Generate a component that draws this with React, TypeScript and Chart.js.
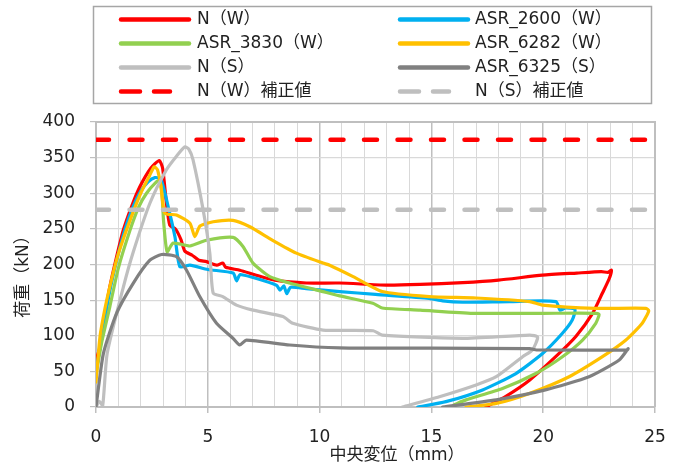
import React, { useEffect, useRef } from "react";
import { Chart, registerables } from "chart.js";

Chart.register(...registerables);

// ---- data (x: 中央変位 mm, y: 荷重 kN) ----
const N_W: [number, number][] = [
  [0, 65], [0.18, 85], [0.4, 130], [0.62, 169], [0.9, 208], [1.22, 248], [1.6, 282], [1.96, 309], [2.45, 335], [2.83, 346], [2.98, 335],
  [3.15, 286], [3.3, 255], [3.55, 250], [3.8, 235], [3.97, 219], [4.3, 213], [4.6, 206], [4.94, 204],
  [5.4, 199], [5.67, 202], [5.8, 196], [6.43, 192], [7.17, 185], [8.0, 178], [9.4, 174], [10.9, 174],
  [12.98, 171], [14.5, 172], [16.4, 174.5], [18.0, 178], [19.96, 185], [21.5, 188], [22.6, 190],
  [22.9, 189], [23.05, 192], [22.95, 180], [22.65, 160], [22.2, 131], [21.46, 99], [20.57, 71],
  [19.4, 38], [18.33, 15], [17.44, 0],
];
const ASR_2600_W: [number, number][] = [
  [0, 50], [0.3, 105], [0.6, 160], [0.92, 205], [1.3, 250], [1.67, 282], [2.0, 303], [2.33, 316], [2.63, 322], [2.9, 320], [3.23, 281],
  [3.53, 239], [3.75, 197], [4.2, 199], [5.0, 193], [6.13, 188], [6.29, 177], [6.45, 186], [8.07, 171],
  [8.23, 164], [8.4, 170], [8.53, 159], [8.7, 168], [9.4, 166], [10.9, 162], [12.5, 158], [14.9, 152.5],
  [15.5, 149], [16.4, 147], [18.5, 148], [20.57, 148], [20.75, 136], [21.0, 139], [21.42, 137],
  [21.3, 122], [20.86, 103.5], [19.97, 75], [18.78, 47], [17.29, 24], [15.65, 7.5], [14.39, 0],
];
const ASR_3830_W: [number, number][] = [
  [0, 45], [0.25, 90], [0.62, 141], [1.0, 195], [1.52, 248], [1.9, 280], [2.26, 300], [2.7, 316], [2.85, 318], [2.95, 300],
  [3.02, 262], [3.18, 218], [3.45, 230], [4.2, 226], [4.94, 234], [6.13, 238], [6.58, 225], [7.02, 202],
  [7.77, 183], [8.66, 174], [10.15, 162], [10.9, 156], [12.38, 145.5], [12.8, 139], [14.5, 136],
  [16.85, 131.5], [20.0, 131.5], [22.35, 131.5], [22.5, 130], [22.35, 117.5], [21.76, 94], [20.86, 70.6],
  [19.67, 47], [18.18, 26], [16.55, 10], [16.0, 3],
];
const ASR_6282_W: [number, number][] = [
  [0, 35], [0.18, 99], [0.4, 138], [0.62, 169], [1.0, 215], [1.52, 262], [2.0, 300], [2.4, 325], [2.6, 337],
  [2.75, 333], [2.9, 310], [3.08, 272], [3.6, 269.5], [4.2, 258], [4.42, 239], [4.65, 254], [5.24, 260],
  [6.13, 262], [6.88, 253], [7.9, 234], [8.96, 216], [10.15, 202], [10.45, 199], [11.5, 183], [12.8, 162],
  [14.9, 155], [17.0, 153], [19.4, 148], [19.96, 143], [22.35, 138.5], [24.6, 138.5], [24.72, 135],
  [24.43, 117.5], [23.7, 94], [22.65, 70.6], [21.16, 42.5], [19.38, 19], [17.9, 5], [16.55, 0],
];
const N_S: [number, number][] = [
  [0, 0], [0.15, 8], [0.3, 2], [0.5, 75], [1.22, 168], [1.67, 218], [2.41, 286], [3.15, 333], [3.6, 352],
  [3.97, 365], [4.15, 362], [4.34, 347], [4.79, 277], [5.09, 216], [5.24, 160], [5.67, 155], [6.28, 143],
  [7.02, 136], [8.36, 127], [8.8, 117.5], [10.15, 108], [12.4, 107], [12.8, 101], [16.4, 96.4],
  [19.4, 101], [19.75, 98], [19.52, 80], [19.08, 70.6], [17.9, 42.5], [17.0, 31], [15.36, 14.5], [13.7, 0],
];
const ASR_6325_S: [number, number][] = [
  [0, 0], [0.33, 75], [0.92, 131.5], [1.67, 174], [2.41, 206], [2.93, 214], [3.6, 211], [4.05, 192],
  [4.64, 155], [5.39, 117.5], [6.13, 96.4], [6.43, 87], [6.73, 94], [8.66, 87], [10.9, 83], [15, 82.5],
  [19.4, 82], [19.7, 80], [23.76, 80], [23.8, 82], [23.4, 66], [22.05, 42.5], [20.1, 24], [17.9, 10],
  [15.5, 0],
];
const N_W_CORRECTION = 375;
const N_S_CORRECTION = 277;
const X_RANGE = [0, 25];
const Y_RANGE = [0, 400];

const SERIES_NAMES = [
  "N（W）", "ASR_2600（W）", "ASR_3830（W）", "ASR_6282（W）",
  "N（S）", "ASR_6325（S）", "N（W）補正値", "N（S）補正値",
];
const SERIES_COLORS = ["#FF0000", "#00B0F0", "#92D050", "#FFC000", "#BFBFBF", "#808080", "#FF0000", "#BFBFBF"];
const X_TITLE = "中央変位（mm）";
const Y_TITLE = "荷重（kN）";

const FONT = "'DejaVu Sans', 'Noto Sans CJK JP', sans-serif";
const TEXT_COLOR = "#222222";

const toPoints = (arr: [number, number][]) => arr.map(([x, y]) => ({ x, y }));

const overlayPlugin = {
  id: "overlay",
  beforeDatasetsDraw(chart: any) {
    const { ctx, chartArea: a } = chart;
    ctx.save();
    ctx.strokeStyle = "#BFBFBF";
    ctx.lineWidth = 2;
    ctx.beginPath();
    ctx.moveTo(a.left, a.top);
    ctx.lineTo(a.right, a.top);
    ctx.lineTo(a.right, a.bottom);
    ctx.stroke();
    ctx.restore();
  },
  afterDraw(chart: any) {
    const ctx = chart.ctx;
    ctx.save();
    // legend box
    ctx.strokeStyle = "#A6A6A6";
    ctx.lineWidth = 1.5;
    ctx.strokeRect(93.5, 6.5, 558, 97);
    ctx.font = `17px ${FONT}`;
    ctx.textBaseline = "middle";
    ctx.textAlign = "left";
    SERIES_NAMES.forEach((name, i) => {
      const col = i % 2;
      const row = Math.floor(i / 2);
      const y = 19.5 + row * 24;
      const lx = col === 0 ? 121 : 400;
      const tx = col === 0 ? 197 : 475;
      ctx.strokeStyle = SERIES_COLORS[i];
      ctx.lineWidth = 4.5;
      ctx.lineCap = "round";
      ctx.beginPath();
      if (i >= 6) {
        ctx.moveTo(lx, y);
        ctx.lineTo(lx + 19, y);
        ctx.moveTo(lx + 33, y);
        ctx.lineTo(lx + 49, y);
      } else {
        ctx.moveTo(lx, y);
        ctx.lineTo(lx + 68, y);
      }
      ctx.stroke();
      ctx.fillStyle = TEXT_COLOR;
      ctx.fillText(name, tx, y + 0.5);
    });
    // axis titles
    ctx.textAlign = "center";
    ctx.fillText(X_TITLE, 397, 456);
    ctx.translate(23.5, 272.5);
    ctx.rotate(-Math.PI / 2);
    ctx.fillText(Y_TITLE, 0, 0);
    ctx.restore();
  },
};

export default function App() {
  const ref = useRef<HTMLCanvasElement | null>(null);
  useEffect(() => {
    if (!ref.current) return;
    const curves = [N_W, ASR_2600_W, ASR_3830_W, ASR_6282_W, N_S, ASR_6325_S];
    const datasets: any[] = curves.map((c, i) => ({
      label: SERIES_NAMES[i],
      data: toPoints(c),
      borderColor: SERIES_COLORS[i],
      backgroundColor: SERIES_COLORS[i],
      borderWidth: 3.2,
      pointRadius: 0,
      showLine: true,
      tension: 0.2,
      borderJoinStyle: "round",
      borderCapStyle: "round",
      order: 10 - i,
    }));
    [N_W_CORRECTION, N_S_CORRECTION].forEach((v, k) => {
      const i = 6 + k;
      datasets.push({
        label: SERIES_NAMES[i],
        data: [{ x: X_RANGE[0], y: v }, { x: X_RANGE[1], y: v }],
        borderColor: SERIES_COLORS[i],
        backgroundColor: SERIES_COLORS[i],
        borderWidth: 4.5,
        borderDash: [13, 20.5],
        borderCapStyle: "round",
        pointRadius: 0,
        showLine: true,
        order: 10 - i,
      });
    });
    const chart = new Chart(ref.current, {
      type: "scatter",
      data: { datasets },
      options: {
        animation: false,
        responsive: false,
        devicePixelRatio: 1,
        layout: { padding: { top: 122, right: 29, left: 0, bottom: 0 } },
        plugins: { legend: { display: false }, tooltip: { enabled: false } },
        scales: {
          x: {
            type: "linear",
            min: X_RANGE[0],
            max: X_RANGE[1],
            afterFit: (s: any) => { s.height = 63; },
            ticks: {
              stepSize: 1,
              autoSkip: false,
              maxRotation: 0,
              padding: 14,
              color: TEXT_COLOR,
              font: { size: 17, family: FONT },
              callback: (v: any) => (Number(v) % 5 === 0 ? String(v) : ""),
            },
            grid: {
              color: (c: any) => (c.tick && c.tick.value % 5 === 0 ? "#BFBFBF" : "#D9D9D9"),
              lineWidth: (c: any) => (c.tick && c.tick.value % 5 === 0 ? 1.5 : 1),
              tickColor: (c: any) => (c.tick && c.tick.value % 5 === 0 ? "#BFBFBF" : "rgba(0,0,0,0)"),
              tickLength: 6,
            },
            border: { color: "#BFBFBF", width: 2 },
          },
          y: {
            type: "linear",
            min: Y_RANGE[0],
            max: Y_RANGE[1],
            afterFit: (s: any) => { s.width = 96; },
            ticks: {
              stepSize: 50,
              padding: 15,
              color: TEXT_COLOR,
              font: { size: 17, family: FONT },
            },
            grid: { color: "#D9D9D9", lineWidth: 1.2, tickColor: "#BFBFBF", tickLength: 6 },
            border: { color: "#BFBFBF", width: 2 },
          },
        },
      },
      plugins: [overlayPlugin],
    } as any);
    return () => chart.destroy();
  }, []);
  return (
    <div style={{ position: "fixed", left: 0, top: 0, width: 684, height: 470, background: "#fff" }}>
      <canvas ref={ref} width={684} height={470} style={{ width: 684, height: 470, display: "block" }} />
    </div>
  );
}
